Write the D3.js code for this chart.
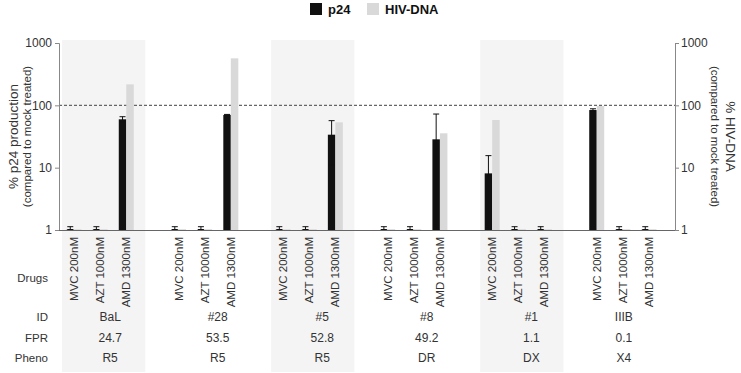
<!DOCTYPE html>
<html>
<head>
<meta charset="utf-8">
<script src="https://cdn.jsdelivr.net/npm/d3@7"></script>
<style>
  body { margin: 0; background: #fff; }
  svg { font-family: "Liberation Sans", Arial, sans-serif; }
</style>
</head>
<body>
<div id="chart"></div>
<script>
// Data
const drugs = ["MVC 200nM", "AZT 1000nM", "AMD 1300nM"];
const isolates = ["BaL", "#28", "#5", "#8", "#1", "IIIB"];
const fprValues = ["24.7", "53.5", "52.8", "49.2", "1.1", "0.1"];
const phenotypes = ["R5", "R5", "R5", "DR", "DX", "X4"];

// one row per isolate, one value per drug
const p24 = [
    [1.01, 1.01, 59.7],
    [1.01, 1.01, 70],
    [1.01, 1.01, 33.8],
    [1.01, 1.01, 28.5],
    [8.1, 1.01, 1.01],
    [84, 1.01, 1.01]
];
const p24Err = [
    [0.12, 0.12, 6],
    [0.12, 0.12, 1.5],
    [0.12, 0.12, 23],
    [0.12, 0.12, 44],
    [7.5, 0.12, 0.12],
    [4, 0.12, 0.12]
];
const hivDna = [
    [1.03, 1.03, 217],
    [1.03, 1.03, 568],
    [1.03, 1.03, 53.4],
    [1.03, 1.03, 35.6],
    [58.2, 1.03, 1.03],
    [97.6, 1.03, 1.03]
];
const yTicks = [1, 10, 100, 1000];

const width = 741, height = 373;
const plotLeft = 59, plotRight = 675, plotTop = 43, plotBottom = 230;
const textColor = "#333";

const svg = d3.select("#chart").append("svg")
    .attr("width", width)
    .attr("height", height);

// slots: 3 drugs per isolate + one empty slot between isolates
const slots = [];
isolates.forEach((iso, gi) => {
    drugs.forEach((dr, di) => slots.push(`${gi}-${di}`));
    if (gi < isolates.length - 1) slots.push(`gap-${gi}`);
});

const x = d3.scalePoint().domain(slots).range([74, 649]);
const y = d3.scaleLog().domain([1, 1000]).range([plotBottom, plotTop]).clamp(true);

const barW = 7.5;

// shaded bands behind isolates 1, 3, 5
isolates.forEach((iso, gi) => {
    if (gi % 2 !== 0) return;
    svg.append("rect")
        .attr("x", x(`${gi}-0`) - 12)
        .attr("y", 40)
        .attr("width", x(`${gi}-2`) - x(`${gi}-0`) + 31)
        .attr("height", 332)
        .attr("fill", "#f4f4f4");
});

// dashed reference line at 100%
svg.append("line")
    .attr("x1", plotLeft).attr("x2", plotRight)
    .attr("y1", y(100)).attr("y2", y(100))
    .attr("stroke", "#666")
    .attr("stroke-width", 1.2)
    .attr("stroke-dasharray", "3,2");

// flatten data
const rows = [];
isolates.forEach((iso, gi) => {
    drugs.forEach((dr, di) => {
        rows.push({ key: `${gi}-${di}`, p24: p24[gi][di], err: p24Err[gi][di], dna: hivDna[gi][di] });
    });
});

// p24 bars (black)
svg.selectAll(".bar-p24")
    .data(rows)
    .enter()
    .append("rect")
    .attr("class", "bar-p24")
    .attr("x", d => x(d.key) - barW)
    .attr("y", d => y(d.p24))
    .attr("width", barW)
    .attr("height", d => y(1) - y(d.p24))
    .attr("fill", "#111");

// HIV-DNA bars (grey)
svg.selectAll(".bar-dna")
    .data(rows)
    .enter()
    .append("rect")
    .attr("class", "bar-dna")
    .attr("x", d => x(d.key))
    .attr("y", d => y(d.dna))
    .attr("width", barW)
    .attr("height", d => y(1) - y(d.dna))
    .attr("fill", "#d9d9d9");

// error bars on p24
const eb = svg.selectAll(".err")
    .data(rows)
    .enter()
    .append("g")
    .attr("class", "err")
    .attr("stroke", "#111")
    .attr("stroke-width", 1);

eb.append("line")
    .attr("x1", d => x(d.key) - barW / 2).attr("x2", d => x(d.key) - barW / 2)
    .attr("y1", d => y(d.p24 + d.err))
    .attr("y2", d => y(Math.max(1, d.p24 - d.err)));
eb.append("line")
    .attr("x1", d => x(d.key) - barW / 2 - 3).attr("x2", d => x(d.key) - barW / 2 + 3)
    .attr("y1", d => y(d.p24 + d.err)).attr("y2", d => y(d.p24 + d.err));
eb.append("line")
    .attr("x1", d => x(d.key) - barW / 2 - 3).attr("x2", d => x(d.key) - barW / 2 + 3)
    .attr("y1", d => y(Math.max(1, d.p24 - d.err)) - 0.5)
    .attr("y2", d => y(Math.max(1, d.p24 - d.err)) - 0.5);

// axes
const yLeft = d3.axisLeft(y).tickValues(yTicks).tickFormat(d3.format("d")).tickSize(4).tickPadding(3);
const yRight = d3.axisRight(y).tickValues(yTicks).tickFormat(d3.format("d")).tickSize(4).tickPadding(2);

const gL = svg.append("g").attr("transform", `translate(${plotLeft},0)`).call(yLeft);
const gR = svg.append("g").attr("transform", `translate(${plotRight},0)`).call(yRight);
[gL, gR].forEach(g => {
    g.select(".domain").attr("stroke", "#888");
    g.selectAll(".tick line").attr("stroke", "#888");
    g.selectAll(".tick text").attr("fill", textColor).style("font-size", "12px");
});

// x baseline
svg.append("line")
    .attr("x1", plotLeft).attr("x2", plotRight)
    .attr("y1", plotBottom + 0.5).attr("y2", plotBottom + 0.5)
    .attr("stroke", "#666");

// axis titles
const midY = (plotTop + plotBottom) / 2;
svg.append("text")
    .attr("transform", `translate(18,${midY}) rotate(-90)`)
    .attr("text-anchor", "middle")
    .attr("fill", textColor)
    .style("font-size", "13.5px")
    .text("% p24 production");
svg.append("text")
    .attr("transform", `translate(31,${midY}) rotate(-90)`)
    .attr("text-anchor", "middle")
    .attr("fill", textColor)
    .style("font-size", "11.5px")
    .text("(compared to mock treated)");

svg.append("text")
    .attr("transform", `translate(726,${midY}) rotate(90)`)
    .attr("text-anchor", "middle")
    .attr("fill", textColor)
    .style("font-size", "13.5px")
    .text("% HIV-DNA");
svg.append("text")
    .attr("transform", `translate(711,${midY}) rotate(90)`)
    .attr("text-anchor", "middle")
    .attr("fill", textColor)
    .style("font-size", "11.5px")
    .text("(compared to mock treated)");

// drug labels (rotated)
svg.selectAll(".drug-label")
    .data(rows)
    .enter()
    .append("text")
    .attr("class", "drug-label")
    .attr("transform", d => `translate(${x(d.key) + 4},237) rotate(-90)`)
    .attr("text-anchor", "end")
    .attr("fill", textColor)
    .style("font-size", "11.5px")
    .text(d => drugs[+d.key.split("-")[1]]);

// row labels
const rowLabels = [
    { text: "Drugs", y: 282 },
    { text: "ID", y: 321 },
    { text: "FPR", y: 342 },
    { text: "Pheno", y: 362 }
];
svg.selectAll(".row-label")
    .data(rowLabels)
    .enter()
    .append("text")
    .attr("class", "row-label")
    .attr("x", 48)
    .attr("y", d => d.y)
    .attr("text-anchor", "end")
    .attr("fill", textColor)
    .style("font-size", "11.5px")
    .text(d => d.text);

// table rows under each isolate (last column is narrower in the source table)
const tableRows = [
    { values: isolates, y: 321 },
    { values: fprValues, y: 342 },
    { values: phenotypes, y: 362 }
];
tableRows.forEach(r => {
    svg.selectAll(null)
        .data(r.values)
        .enter()
        .append("text")
        .attr("x", (d, i) => x(`${i}-1`) + (i === 0 ? 10 : i < 5 ? 13 : 1))
        .attr("y", r.y)
        .attr("text-anchor", "middle")
        .attr("fill", textColor)
        .style("font-size", "12px")
        .text(d => d);
});

// legend
const legend = [
    { label: "p24", color: "#111", x: 310 },
    { label: "HIV-DNA", color: "#d9d9d9", x: 367 }
];
const lg = svg.selectAll(".legend")
    .data(legend)
    .enter()
    .append("g")
    .attr("class", "legend")
    .attr("transform", d => `translate(${d.x},3)`);
lg.append("rect")
    .attr("width", 12).attr("height", 12)
    .attr("fill", d => d.color);
lg.append("text")
    .attr("x", 18).attr("y", 11)
    .attr("fill", "#111")
    .style("font-size", "13px")
    .style("font-weight", "bold")
    .text(d => d.label);
</script>
</body>
</html>
